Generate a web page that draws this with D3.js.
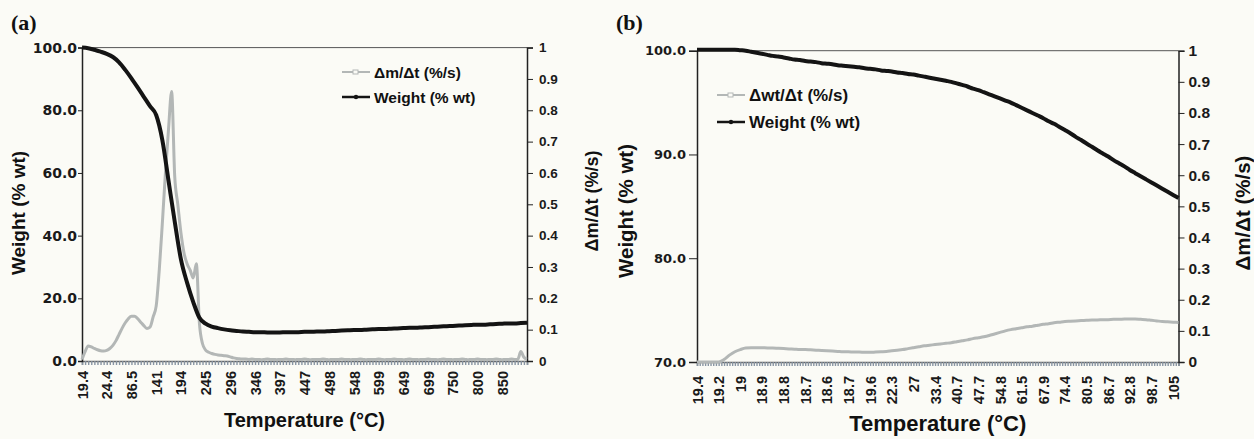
<!DOCTYPE html>
<meta charset="UTF-8">
<style>
body { margin: 0; background: #fbfbf6; }
svg { display: block; }
.ttl { font-family: "Liberation Sans", Arial, sans-serif; font-weight: bold; fill: #111; }
.tick text { font-weight: bold; fill: #1a1a1a; }
</style>
<body>
<script src="https://d3js.org/d3.v7.min.js"></script>
<script>

// ---- panel (a): one x label every 4 weight samples / 8 rate samples
var tempLabelsA = ["19.4","24.4","86.5","141","194","245","296","346","397","447",
                   "498","548","599","649","699","750","800","850"];
var weightA = [100,99.8,99.3,98.7, 98.0,97.0,95.3,92.9, 90.2,87.3,84.3,81.3,
  78.5,70.5,57.5,44.5, 32.5,25.0,18.8,13.8, 11.9,11.0,10.5,10.1, 9.8,9.6,9.4,9.3,
  9.2,9.2,9.1,9.1, 9.1,9.2,9.2,9.2, 9.3,9.3,9.4,9.4, 9.5,9.6,9.7,9.8,
  9.9,9.9,10.0,10.1, 10.2,10.2,10.3,10.4, 10.5,10.6,10.6,10.7, 10.8,10.9,11.0,11.1,
  11.2,11.3,11.4,11.5, 11.6,11.6,11.7,11.8, 11.9,12.0,12.0,12.1, 12.2];
var rateA = [0.005,0.03,0.048,0.045,0.04,0.036,0.033,0.032,
  0.034,0.04,0.05,0.065,0.085,0.105,0.122,0.135,
  0.143,0.143,0.135,0.124,0.113,0.104,0.108,0.14,
  0.175,0.29,0.44,0.6,0.74,0.86,0.59,0.5,
  0.41,0.345,0.31,0.29,0.265,0.31,0.12,0.055,
  0.035,0.028,0.024,0.021,0.019,0.018,0.017,0.016,
  0.013,0.01,0.008,0.007,0.006,
  0.006,0.005,0.006,0.005,0.005,0.004,0.005,0.006,0.005,0.005,0.004,0.005,0.005,0.006,0.005,
  0.005,0.004,0.005,0.005,0.006,0.005,0.004,0.005,0.005,0.005,0.006,0.005,0.004,0.005,0.005,
  0.005,0.006,0.005,0.005,0.004,0.005,0.005,0.006,0.005,0.004,0.005,0.005,0.005,0.006,0.005,
  0.004,0.005,0.005,0.006,0.005,0.005,0.004,0.005,0.006,0.005,0.005,0.004,0.005,0.005,0.006,
  0.005,0.005,0.004,0.005,0.006,0.005,0.005,0.004,0.005,0.005,0.006,0.005,0.004,0.005,0.005,
  0.006,0.005,0.005,0.004,0.005,0.005,0.006,0.005,0.004,0.005,0.005,0.006,0.005,0.005,
  0.03,0.012,0.006];
var weightTicksA = [0,20,40,60,80,100];

// ---- panel (b): one x label every 4 samples
var tempLabelsB = ["19.4","19.2","19","18.9","18.8","18.7","18.6","18.7","19.6","22.3","27",
                   "33.4","40.7","47.7","54.8","61.5","67.9","74.4","80.5","86.7","92.8","98.7","105"];
var weightB = [100.1,100.1,100.1,100.1, 100.1,100.1,100.1,100.1, 100.05,100.0,99.9,99.8,
  99.7,99.6,99.5,99.45, 99.35,99.25,99.15,99.1, 99.0,98.95,98.9,98.8, 98.75,98.7,98.6,98.55,
  98.5,98.45,98.4,98.3, 98.25,98.2,98.1,98.05, 98.0,97.9,97.85,97.75, 97.7,97.6,97.5,97.4,
  97.3,97.2,97.1,97.0, 96.85,96.7,96.55,96.35, 96.2,96.0,95.8,95.6, 95.4,95.2,95.0,94.75,
  94.5,94.25,94.0,93.75, 93.5,93.2,92.95,92.65, 92.35,92.05,91.7,91.4, 91.05,90.75,90.4,90.1,
  89.8,89.45,89.15,88.85, 88.5,88.2,87.9,87.6, 87.3,87.0,86.7,86.4, 86.1,85.8];
var rateB = [0,0,0,0, 0,0.008,0.022,0.033, 0.04,0.045,0.046,0.046,
  0.046,0.045,0.045,0.044, 0.043,0.042,0.041,0.04, 0.04,0.039,0.038,0.037,
  0.036,0.035,0.034,0.033, 0.033,0.032,0.032,0.031, 0.031,0.032,0.033,0.034,
  0.036,0.038,0.04,0.043, 0.046,0.049,0.052,0.054, 0.056,0.058,0.06,0.062,
  0.065,0.068,0.071,0.075, 0.078,0.081,0.085,0.09, 0.095,0.1,0.104,0.107,
  0.11,0.113,0.115,0.118, 0.121,0.123,0.126,0.128, 0.13,0.131,0.132,0.133,
  0.134,0.135,0.135,0.136, 0.136,0.137,0.137,0.138, 0.138,0.138,0.137,0.136,
  0.134,0.132,0.13,0.129, 0.128,0.127];
var weightTicksB = [70,80,90,100];

var rateTicks = d3.range(0, 11).map(function(i) { return i / 10; });

var svg = d3.select("body").append("svg")
    .attr("width", 1254)
    .attr("height", 439);

function panel(o) {
  var g = svg.append("g");
  var xMax = (o.weight.length - 1) / o.wStep;
  var x = d3.scaleLinear().domain([0, xMax]).range([o.left, o.right]);
  var yW = d3.scaleLinear().domain(o.wDomain).range([o.bottom, o.top]);
  var yR = d3.scaleLinear().domain([0, 1]).range([o.bottom, o.top]);

  // plot box top line
  g.append("line")
    .attr("x1", o.left).attr("x2", o.right)
    .attr("y1", o.top).attr("y2", o.top)
    .attr("stroke", "#555").attr("stroke-width", 1);

  // dense category ticks along the bottom
  var band = g.append("g")
    .attr("transform", "translate(0," + o.bottom + ")")
    .call(d3.axisBottom(x).tickValues(d3.range(0, xMax + 1e-9, 1 / 8)).tickSize(4).tickFormat(""));
  band.select(".domain").attr("stroke", "#666").attr("stroke-width", 1.5);
  band.selectAll(".tick line").attr("stroke", "#8794a2").attr("stroke-width", 1.4);

  // temperature labels, rotated
  var xl = g.append("g")
    .attr("transform", "translate(0," + o.bottom + ")")
    .call(d3.axisBottom(x).tickValues(d3.range(o.labels.length))
      .tickFormat(function(i) { return o.labels[i]; }).tickSize(0));
  xl.select(".domain").remove();
  xl.selectAll("text")
    .attr("transform", "rotate(-90)")
    .attr("x", -o.xLabOff).attr("y", 0).attr("dy", "0.35em")
    .style("text-anchor", "end")
    .style("font-family", "'Liberation Sans', Arial, sans-serif")
    .style("font-size", o.xLabSize + "px");

  // left axis
  var la = g.append("g")
    .attr("transform", "translate(" + o.left + ",0)")
    .call(d3.axisLeft(yW).tickValues(o.wTicks).tickFormat(d3.format(".1f"))
      .tickSize(o.lTick).tickPadding(o.lPad));
  la.select(".domain").attr("stroke", "#222").attr("stroke-width", 1.5);
  la.selectAll(".tick line").attr("stroke", "#222");
  la.selectAll("text")
    .style("font-family", "'DejaVu Sans', Verdana, sans-serif")
    .style("font-size", o.lSize + "px");

  // right axis
  var ra = g.append("g")
    .attr("transform", "translate(" + o.right + ",0)")
    .call(d3.axisRight(yR).tickValues(rateTicks).tickFormat(d3.format(".1~f"))
      .tickSize(6).tickPadding(o.rPad));
  ra.select(".domain").attr("stroke", "#222").attr("stroke-width", 1.5);
  ra.selectAll(".tick line").attr("stroke", "#222");
  ra.selectAll("text")
    .style("font-family", "'Liberation Sans', Arial, sans-serif")
    .style("font-size", o.rSize + "px");

  // series
  g.append("path")
    .datum(o.rate)
    .attr("fill", "none")
    .attr("stroke", "#b3b7b6")
    .attr("stroke-width", 3)
    .attr("stroke-linejoin", "round")
    .attr("d", d3.line()
      .x(function(d, i) { return x(i / o.rStep); })
      .y(function(d) { return yR(d); })
      .curve(d3.curveMonotoneX));

  g.append("path")
    .datum(o.weight)
    .attr("fill", "none")
    .attr("stroke", "#141414")
    .attr("stroke-width", 4)
    .attr("stroke-linejoin", "round")
    .attr("d", d3.line()
      .x(function(d, i) { return x(i / o.wStep); })
      .y(function(d) { return yW(d); })
      .curve(d3.curveMonotoneX));

  // legend
  var lg = g.append("g").attr("transform", "translate(" + o.legX + "," + o.legY + ")");
  lg.append("line").attr("x1", 0).attr("x2", 28).attr("y1", 0).attr("y2", 0)
    .attr("stroke", "#b3b7b6").attr("stroke-width", 2);
  lg.append("rect").attr("x", 11).attr("y", -2).attr("width", 5).attr("height", 4)
    .attr("fill", "#fbfbf6").attr("stroke", "#b3b7b6").attr("stroke-width", 1);
  lg.append("line").attr("x1", 0).attr("x2", 28).attr("y1", o.legGap).attr("y2", o.legGap)
    .attr("stroke", "#141414").attr("stroke-width", 2.5);
  lg.append("circle").attr("cx", 14).attr("cy", o.legGap).attr("r", 2.2).attr("fill", "#141414");
  lg.append("text").attr("class", "ttl").attr("x", 32).attr("y", 0).attr("dy", "0.36em")
    .style("font-size", o.legSize + "px").text(o.rateName);
  lg.append("text").attr("class", "ttl").attr("x", 32).attr("y", o.legGap).attr("dy", "0.36em")
    .style("font-size", o.legSize + "px").text("Weight (% wt)");

  // axis titles
  g.append("text").attr("class", "ttl")
    .attr("x", (o.left + o.right) / 2).attr("y", o.xTitleY)
    .attr("text-anchor", "middle")
    .style("font-size", o.xTitleSize + "px")
    .text("Temperature (°C)");
  g.append("text").attr("class", "ttl")
    .attr("transform", "translate(" + o.lTitleX + "," + o.lTitleY + ") rotate(-90)")
    .attr("text-anchor", "middle").attr("dy", "0.35em")
    .style("font-size", o.lTitleSize + "px")
    .text("Weight (% wt)");
  g.append("text").attr("class", "ttl")
    .attr("transform", "translate(" + o.rTitleX + "," + o.rTitleY + ") rotate(-90)")
    .attr("text-anchor", "middle").attr("dy", "0.35em")
    .style("font-size", o.rTitleSize + "px")
    .text("Δm/Δt (%/s)");

  // panel letter
  g.append("text")
    .attr("x", o.tagX).attr("y", 30)
    .style("font-family", "'Liberation Serif', 'Times New Roman', serif")
    .style("font-weight", "bold")
    .style("font-size", "22px")
    .attr("fill", "#111")
    .text(o.tag);
}

panel({
  tag: "(a)", tagX: 11,
  labels: tempLabelsA, weight: weightA, rate: rateA, wStep: 4, rStep: 8,
  wDomain: [0, 100], wTicks: weightTicksA,
  left: 82, right: 527, top: 47.6, bottom: 361,
  xLabOff: 10, xLabSize: 14.5,
  lTick: 4, lPad: 1, lSize: 14,
  rPad: 6, rSize: 13.5,
  legX: 342, legY: 72, legGap: 25, legSize: 15.5, rateName: "Δm/Δt (%/s)",
  xTitleY: 427, xTitleSize: 20,
  lTitleX: 18, lTitleY: 213, lTitleSize: 19,
  rTitleX: 592, rTitleY: 201, rTitleSize: 18
});

panel({
  tag: "(b)", tagX: 616,
  labels: tempLabelsB, weight: weightB, rate: rateB, wStep: 4, rStep: 4,
  wDomain: [70, 100], wTicks: weightTicksB,
  left: 697, right: 1178.5, top: 50.7, bottom: 362,
  xLabOff: 14, xLabSize: 14.5,
  lTick: 8, lPad: 3, lSize: 13,
  rPad: 4, rSize: 15.5,
  legX: 717, legY: 95, legGap: 27, legSize: 17, rateName: "Δwt/Δt (%/s)",
  xTitleY: 431, xTitleSize: 22,
  lTitleX: 626, lTitleY: 211, lTitleSize: 20.5,
  rTitleX: 1243, rTitleY: 213, rTitleSize: 20.5
});

</script>
</body>
